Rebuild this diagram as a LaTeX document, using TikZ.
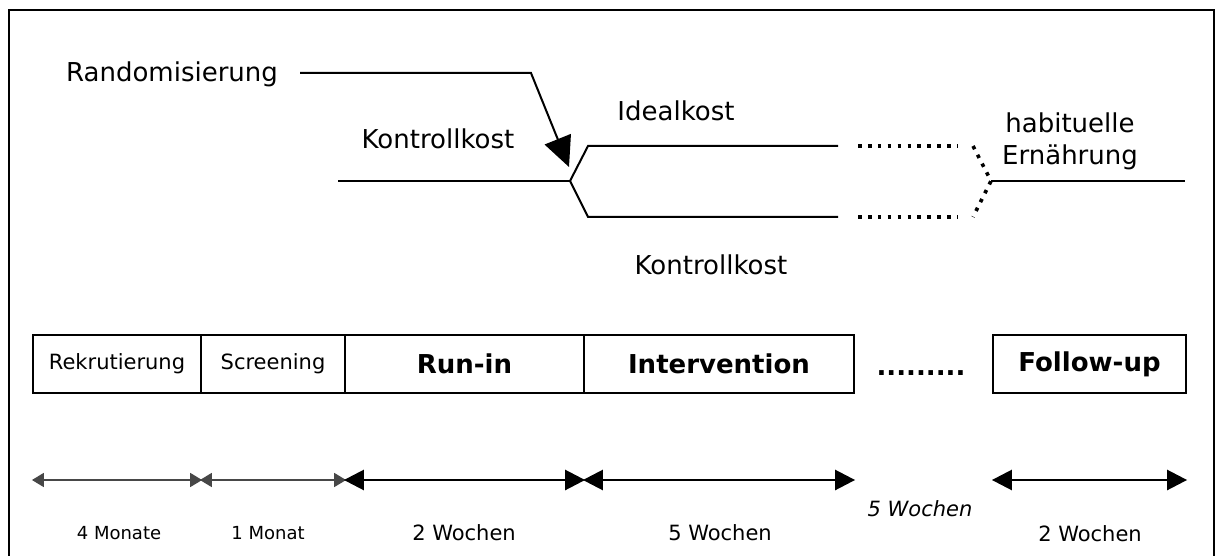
\documentclass[tikz,border=0pt]{standalone}
\usepackage{fontspec}
\setmainfont{DejaVu Sans}
\usetikzlibrary{arrows.meta}
\begin{document}
\begin{tikzpicture}[x=1pt,y=-1pt,
  toptext/.style={font=\fontsize{26}{31}\selectfont, inner sep=0, anchor=base},
  phase/.style={draw, line width=2.2, inner sep=0, minimum height=58},
  phasesmall/.style={phase, font=\fontsize{21}{25}\selectfont},
  phasebold/.style={phase, font=\fontsize{26}{31}\selectfont\bfseries},
  pathline/.style={line width=2},
  dotline/.style={line width=3.6, dash pattern=on 3.6 off 6.3},
  greyspan/.style={draw=black!72, line width=1.6,
    {Triangle[length=12,width=14]}-{Triangle[length=12,width=14]}},
  blackspan/.style={line width=2.6,
    {Triangle[length=20,width=20]}-{Triangle[length=20,width=20]}},
  durlabel/.style={inner sep=0, anchor=base},
]
\useasboundingbox (0,0) rectangle (1218,556);
\clip (0,0) rectangle (1218,556);

% outer frame (open at the bottom edge of the page)
\draw[line width=1.6] (9,600) -- (9,10) -- (1214,10) -- (1214,600);

% ---- diet arms ----
\node[toptext] (rand) at (172,82) {Randomisierung};
\node[toptext] (kk1) at (438,149) {Kontrollkost};
\node[toptext] (ideal) at (676,121) {Idealkost};
\node[toptext] (kk2) at (711,274) {Kontrollkost};
\node[toptext, align=center, font=\fontsize{26}{32}\selectfont] (habit) at (1070,165)
  {habituelle\\Ernährung};

\coordinate (r0) at (300,73);
\coordinate (r1) at (531,73);
\coordinate (rtip) at (569,167);
\coordinate (k0) at (338,181);
\coordinate (split) at (570,181);
\coordinate (up0) at (588,146);
\coordinate (up1) at (838,146);
\coordinate (lo0) at (588,217);
\coordinate (lo1) at (838,217);
\coordinate (dup0) at (858,146);
\coordinate (dup1) at (958,146);
\coordinate (dlo0) at (858,217);
\coordinate (dlo1) at (958,217);
\coordinate (mup) at (973,146);
\coordinate (mlo) at (973,217);
\coordinate (join) at (991,181);
\coordinate (h1) at (1185,181);

\draw[pathline, -{Triangle[length=30,width=28]}] (r0) -- (r1) -- (rtip);
\draw[pathline] (k0) -- (split);
\draw[pathline] (split) -- (up0) -- (up1);
\draw[pathline] (split) -- (lo0) -- (lo1);
\draw[dotline] (dup0) -- (dup1);
\draw[dotline] (dlo0) -- (dlo1);
\draw[dotline] (mup) -- (join) -- (mlo);
\draw[pathline] (join) -- (h1);

% ---- study phases ----
\node[phasesmall, minimum width=168] (rek) at (117,364) {Rekrutierung};
\node[phasesmall, minimum width=144] (scr) at (273,364) {Screening};
\node[phasebold, minimum width=239] (run) at (464.5,364) {Run-in};
\node[phasebold, minimum width=270] (int) at (719,364) {Intervention};
\node[inner sep=0, anchor=base, font=\fontsize{26}{31}\selectfont\bfseries] (gap) at (921,375) {.........};
\node[phasebold, minimum width=193] (fu) at (1089.5,364) {Follow-up};

% ---- durations ----
\coordinate (tl) at (0,480);
\draw[greyspan] (rek.west |- tl) -- (rek.east |- tl);
\draw[greyspan] (scr.west |- tl) -- (scr.east |- tl);
\draw[blackspan] (run.west |- tl) -- (run.east |- tl);
\draw[blackspan] (int.west |- tl) -- (int.east |- tl);
\draw[blackspan] (fu.west |- tl) -- (fu.east |- tl);

\node[durlabel, font=\fontsize{18}{22}\selectfont] (d1) at (119,539) {4 Monate};
\node[durlabel, font=\fontsize{18}{22}\selectfont] (d2) at (268,539) {1 Monat};
\node[durlabel, font=\fontsize{21}{25}\selectfont] (d3) at (464,540) {2 Wochen};
\node[durlabel, font=\fontsize{21}{25}\selectfont] (d4) at (720,540) {5 Wochen};
\node[durlabel, font=\fontsize{21}{25}\selectfont\itshape] (d5) at (920,516) {5 Wochen};
\node[durlabel, font=\fontsize{21}{25}\selectfont] (d6) at (1090,541) {2 Wochen};
\end{tikzpicture}
\end{document}
